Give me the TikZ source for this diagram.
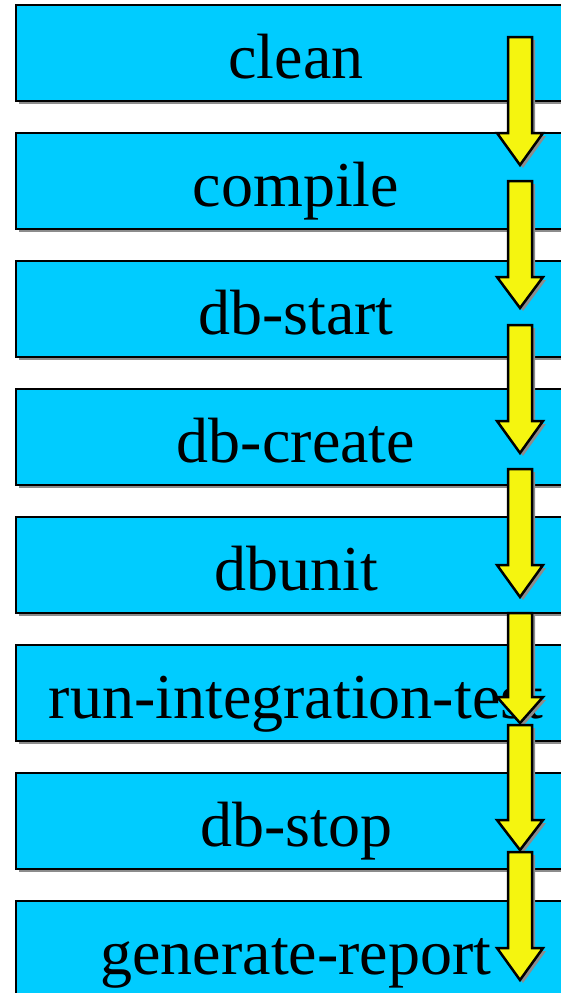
\documentclass[tikz,border=0pt]{standalone}
\usepackage{fontspec}
\setmainfont{Liberation Serif}
\usetikzlibrary{positioning, shadows}
\definecolor{stagecyan}{RGB}{0,204,255}
\definecolor{arrowyellow}{RGB}{245,245,15}

\begin{document}
\begin{tikzpicture}[x=1pt, y=-1pt, node distance=32pt,
  stage/.style={draw, line width=2.5pt, fill=stagecyan, minimum width=560pt, minimum height=96pt,
    inner sep=0pt, outer sep=0pt, text height=50pt, text depth=0pt,
    font=\fontsize{64}{70}\selectfont,
    drop shadow={opacity=1, fill=black!45, shadow xshift=3pt, shadow yshift=-3pt}},
  flowarrow/.style={draw, line width=2.5pt, fill=arrowyellow, line join=miter,
    drop shadow={opacity=1, fill=black!45, shadow xshift=3pt, shadow yshift=-3pt}}]
\useasboundingbox (0,0) rectangle (561,993);
\clip (0,0) rectangle (561,993);

% Build steps
\node[stage] (clean) at (296,53) {clean};
\node[stage, below=of clean] (compile) {compile};
\node[stage, below=of compile] (dbstart) {db-start};
\node[stage, below=of dbstart] (dbcreate) {db-create};
\node[stage, below=of dbcreate] (dbunit) {dbunit};
\node[stage, below=of dbunit] (runtest) {run-integration-test};
\node[stage, below=of runtest] (dbstop) {db-stop};
\node[stage, below=of dbstop] (report) {generate-report};

% Block arrows on the right
\foreach \ytop/\ybase/\ytip in {37/133/165, 181/277/308, 325/421/453, 469/565/597,
    613/697/723, 725/820/850, 852/948/980}
  \draw[flowarrow] (508,\ytop) -- (532,\ytop) -- (532,\ybase) -- (543,\ybase)
    -- (520,\ytip) -- (497,\ybase) -- (508,\ybase) -- cycle;
\end{tikzpicture}
\end{document}
